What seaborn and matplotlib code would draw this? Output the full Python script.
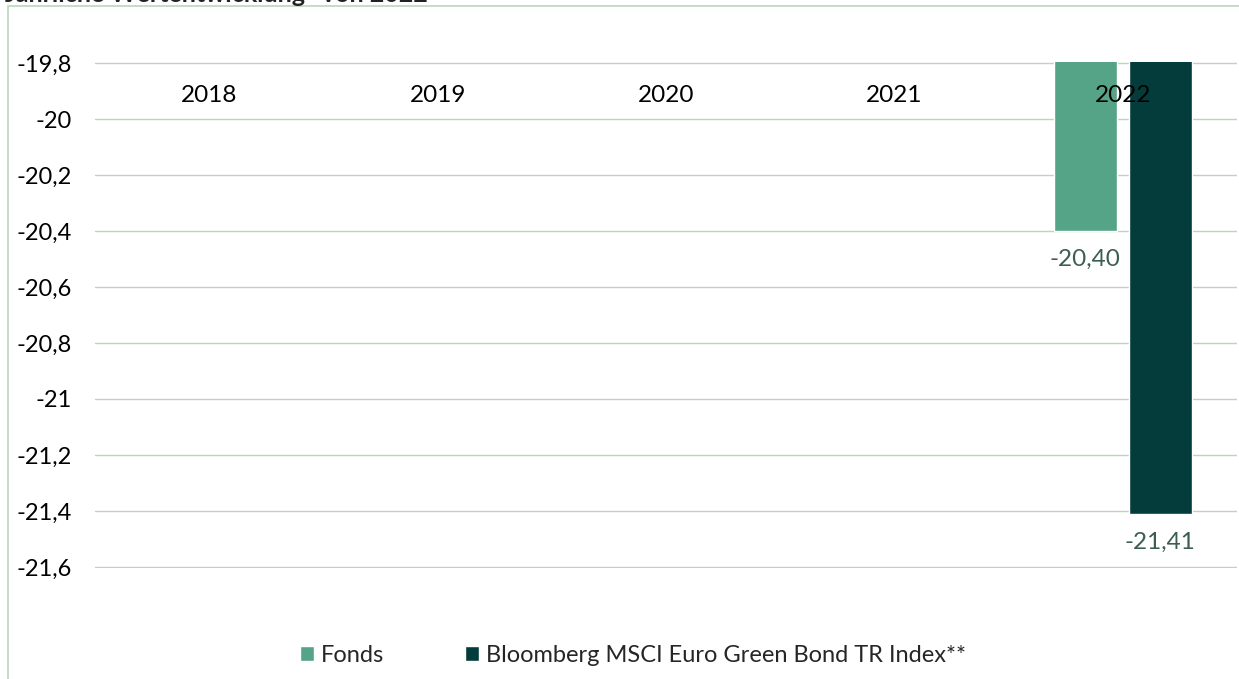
import pandas as pd
import seaborn as sns
import matplotlib.pyplot as plt
from matplotlib.patches import Rectangle, Patch

sns.set_theme(style="whitegrid")
plt.rcParams["font.family"] = ["Lato", "DejaVu Sans"]

years = ["2018", "2019", "2020", "2021", "2022"]
fonds = [None, None, None, None, -20.40]
index_vals = [None, None, None, None, -21.41]
series_names = ["Fonds", "Bloomberg MSCI Euro Green Bond TR Index**"]
y_ticks = [-19.8, -20.0, -20.2, -20.4, -20.6, -20.8, -21.0, -21.2, -21.4, -21.6]
y_tick_labels = ["-19,8", "-20", "-20,2", "-20,4", "-20,6", "-20,8", "-21", "-21,2", "-21,4", "-21,6"]
title = "Jährliche Wertentwicklung* von 2022"

fonds_color = "#56a487"
index_color = "#033c3a"
grid_color = "#bcd5bc"
label_color = "#3c5e52"
fs = 17.5

df = pd.DataFrame({
    "Jahr": years * 2,
    "Serie": [series_names[0]] * len(years) + [series_names[1]] * len(years),
    "Wert": fonds + index_vals,
})

W, H = 1239, 679
fig = plt.figure(figsize=(W / 100, H / 100), dpi=100)
ax = fig.add_axes([95 / W, 1 - 568 / H, (1237 - 95) / W, (568 - 62) / H])

sns.barplot(data=df, x="Jahr", y="Wert", hue="Serie", order=years,
            hue_order=series_names, palette=[fonds_color, index_color],
            width=0.656, gap=0.16, errorbar=None, legend=False, ax=ax,
            saturation=1)

step = 0.2 / 56
ax.set_ylim(y_ticks[-1] - step, y_ticks[0] + step)
ax.set_yticks(y_ticks)
ax.set_yticklabels(y_tick_labels)
ax.set_xlim(-0.5, len(years) - 0.5)
ax.grid(axis="x", visible=False)
ax.grid(axis="y", color=grid_color, linewidth=1)
ax.set_axisbelow(True)
for s in ax.spines.values():
    s.set_visible(False)
ax.tick_params(axis="y", labelsize=17, colors="black", pad=17, length=0)
ax.set_xticks([])
ax.set_xlabel("")
ax.set_ylabel("")

# category labels inside the plot near the top
for i, yr in enumerate(years):
    ax.text(i, 0.933, yr, transform=ax.get_xaxis_transform(), ha="center",
            va="center", fontsize=fs, color="black", zorder=5)

# value labels under the bars
for bar_container in ax.containers:
    for rect in bar_container:
        h = rect.get_height()
        if pd.isna(h) or h == 0:
            continue
        v = rect.get_y() + h
        ax.annotate(f"{v:.2f}".replace(".", ","),
                    (rect.get_x() + rect.get_width() / 2, v),
                    xytext=(0, -13), textcoords="offset points",
                    ha="center", va="top", fontsize=fs, color=label_color)

# outer frame
fig.patches.append(Rectangle((8 / W, -0.05), 1.0, 1.05 - 6 / H,
                             transform=fig.transFigure, fill=False,
                             edgecolor=grid_color, linewidth=1.2))

fig.text(5 / W, 1 - 2 / H, title, ha="left", va="baseline",
         fontsize=18, fontweight="bold", color="#222222")

handles = [Patch(facecolor=fonds_color), Patch(facecolor=index_color)]
fig.legend(handles, series_names, loc="center", bbox_to_anchor=(0.511, 1 - 655 / H),
           ncol=2, frameon=False, fontsize=17, handlelength=0.6, handleheight=0.6,
           handletextpad=0.3, columnspacing=3.4)

fig.savefig("out.png", dpi=100)
